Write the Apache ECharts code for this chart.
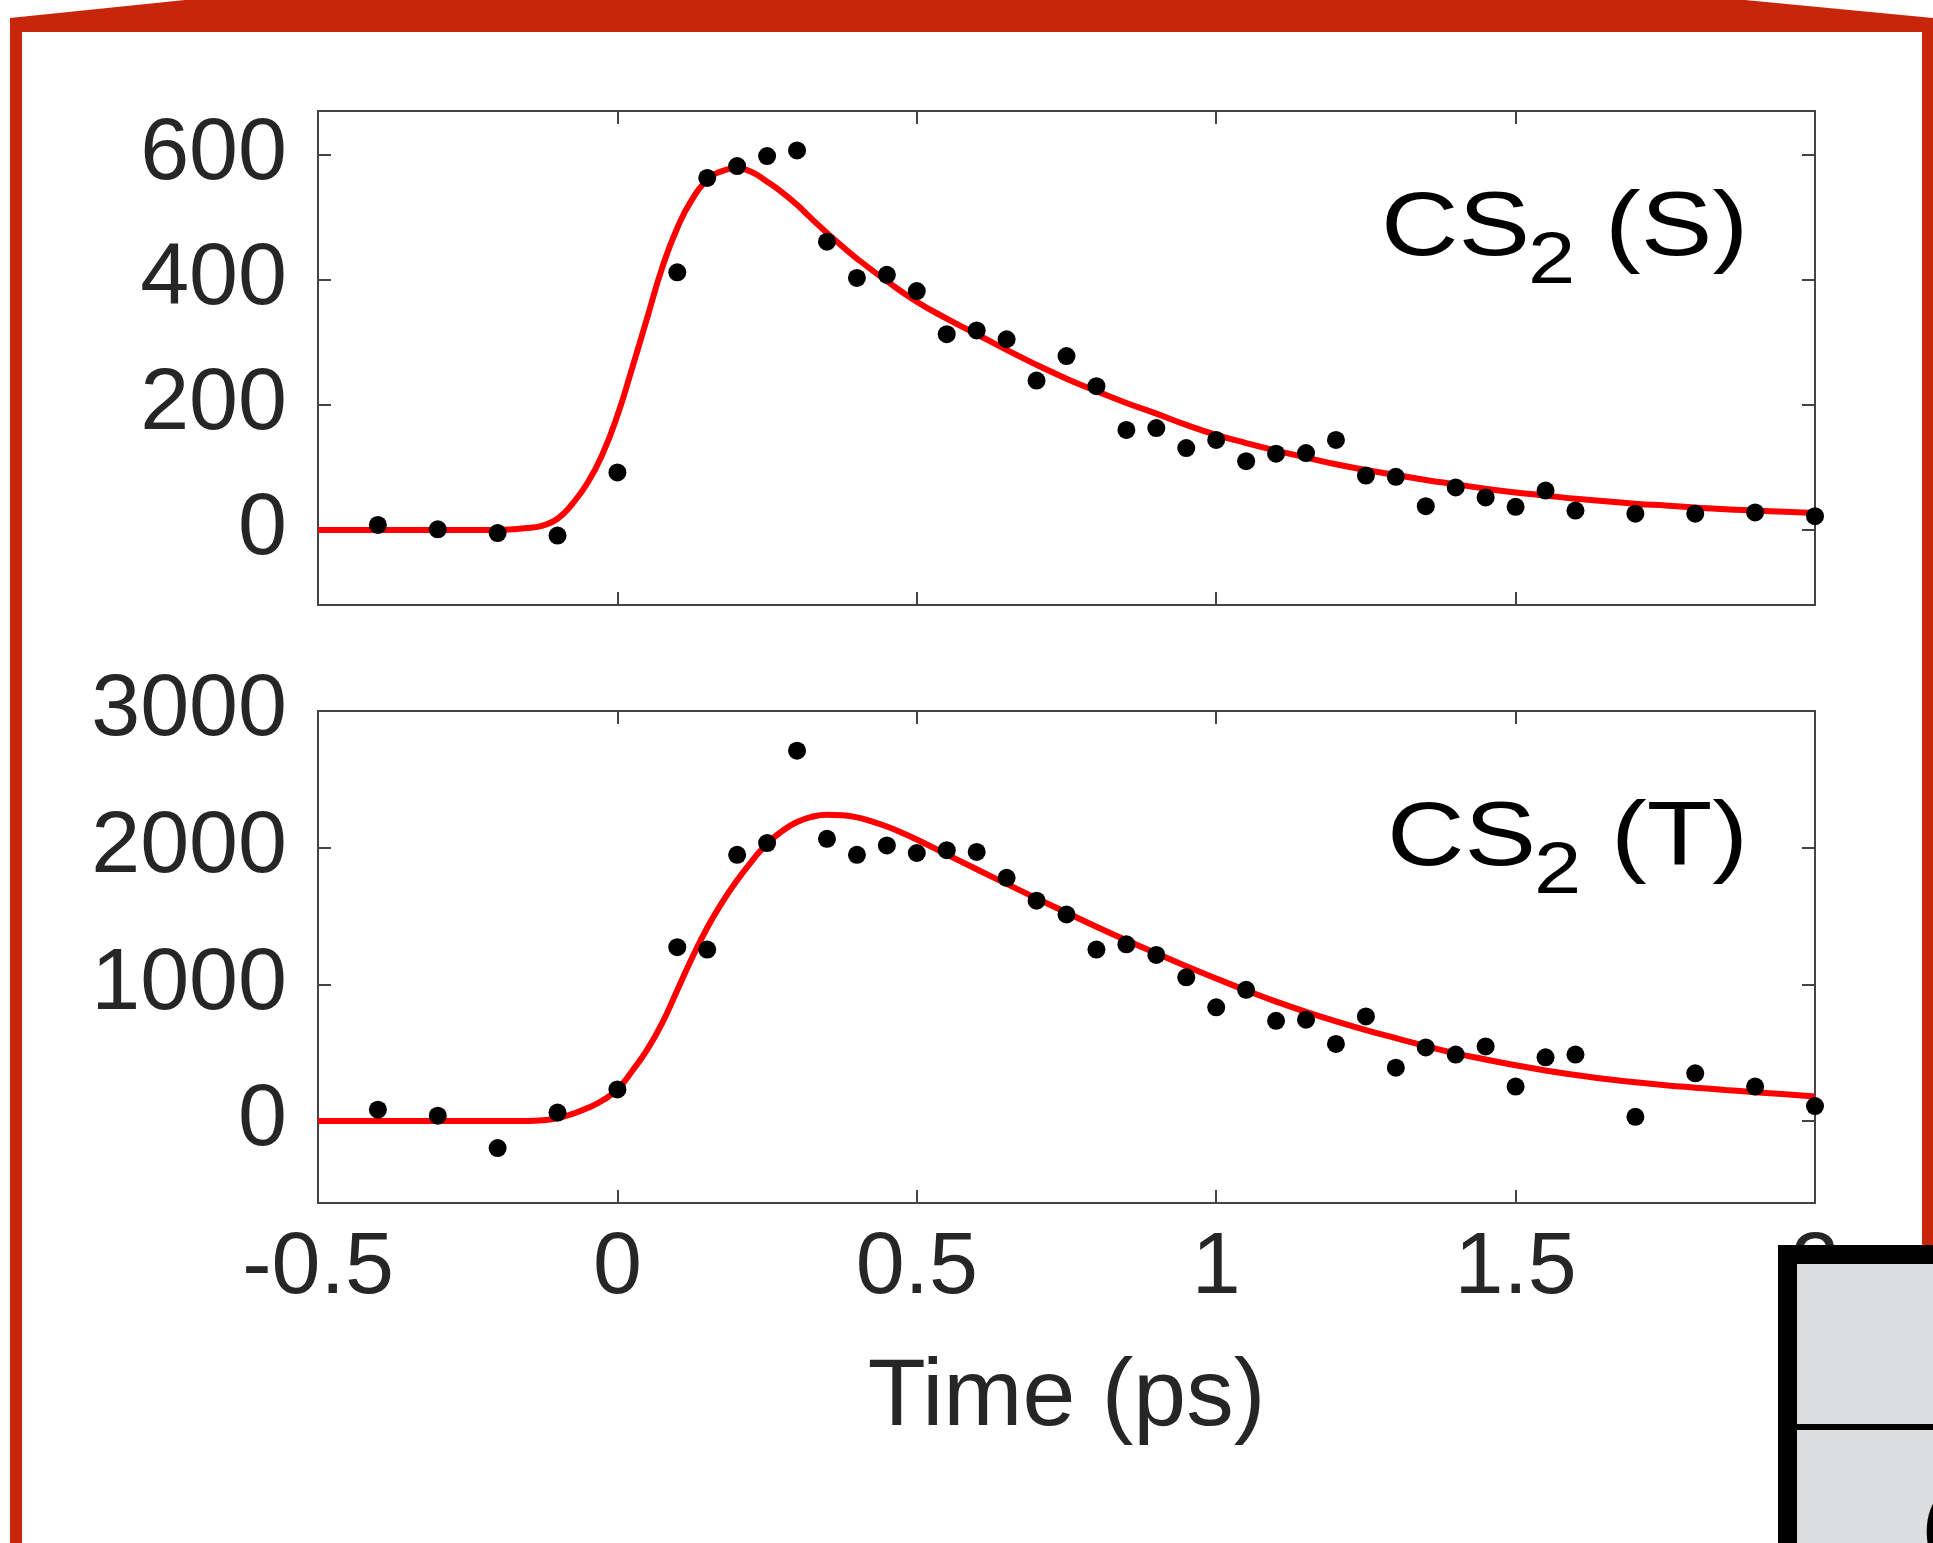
<!DOCTYPE html>
<html>
<head>
<meta charset="utf-8">
<script src="https://cdn.jsdelivr.net/npm/echarts@6/dist/echarts.min.js"></script>
<style>
html,body{margin:0;padding:0;background:#fff;}
#chart{width:1933px;height:1543px;}
</style>
</head>
<body>
<div id="chart"></div>
<script>
// ---------- data ----------
const xTicks = [-0.5, 0, 0.5, 1, 1.5, 2];
const yTicksS = [0, 200, 400, 600];
const yTicksT = [0, 1000, 2000, 3000];

// CS2 (S) measured points
const timesS = [-0.4,-0.3,-0.2,-0.1,0,0.1,0.15,0.2,0.25,0.3,0.35,0.4,0.45,0.5,0.55,0.6,0.65,0.7,0.75,0.8,0.85,0.9,0.95,1.0,1.05,1.1,1.15,1.2,1.25,1.3,1.35,1.4,1.45,1.5,1.55,1.6,1.7,1.8,1.9,2.0];
const valuesS = [8,1,-5,-9,92,412,563,582,598,607,461,403,408,382,313,319,305,239,278,230,160,163,131,144,110,122,123,144,87,85,38,68,52,37,63,31,26,26,28,22];
// CS2 (S) fit curve
const fitTimesS = [-0.5,-0.4,-0.3,-0.25,-0.2,-0.175,-0.15,-0.125,-0.1,-0.075,-0.05,-0.025,0,0.025,0.05,0.075,0.1,0.125,0.15,0.175,0.2,0.225,0.25,0.275,0.3,0.325,0.35,0.375,0.4,0.45,0.5,0.55,0.6,0.65,0.7,0.75,0.8,0.85,0.9,0.95,1.0,1.05,1.1,1.15,1.2,1.25,1.3,1.35,1.4,1.45,1.5,1.55,1.6,1.65,1.7,1.75,1.8,1.85,1.9,1.95,2.0];
const fitValuesS = [0,0,0,0,0,1,3,7,18,42,75,121,183,260,340,420,483,529,559,574,578,572,557,540,520,497,475,454,434,398,365,338,313,288,264,242,222,203,186,168,152,139,127,116,105,96,88,80,73,66,60,55,50,46,42,39,36,33,31,29,27];

// CS2 (T) measured points
const timesT = [-0.4,-0.3,-0.2,-0.1,0,0.1,0.15,0.2,0.25,0.3,0.35,0.4,0.45,0.5,0.55,0.6,0.65,0.7,0.75,0.8,0.85,0.9,0.95,1.0,1.05,1.1,1.15,1.2,1.25,1.3,1.35,1.4,1.45,1.5,1.55,1.6,1.7,1.8,1.9,2.0];
const valuesT = [83,39,-198,62,231,1272,1254,1948,2034,2710,2065,1948,2016,1961,1982,1969,1779,1612,1511,1254,1293,1215,1051,832,960,733,741,564,765,390,538,486,546,252,466,486,31,349,252,109];
// CS2 (T) fit curve
const fitTimesT = [-0.5,-0.4,-0.3,-0.2,-0.15,-0.125,-0.1,-0.075,-0.05,-0.025,0,0.025,0.05,0.075,0.1,0.125,0.15,0.175,0.2,0.225,0.25,0.275,0.3,0.325,0.35,0.375,0.4,0.425,0.45,0.475,0.5,0.55,0.6,0.65,0.7,0.75,0.8,0.85,0.9,0.95,1.0,1.05,1.1,1.15,1.2,1.25,1.3,1.35,1.4,1.45,1.5,1.55,1.6,1.65,1.7,1.75,1.8,1.85,1.9,1.95,2.0];
const fitValuesT = [0,0,0,0,0,5,20,52,95,150,231,368,524,718,957,1196,1414,1600,1762,1904,2030,2121,2188,2226,2241,2237,2222,2192,2155,2110,2060,1950,1842,1735,1629,1525,1422,1322,1226,1133,1043,956,874,798,729,665,606,549,495,450,408,370,336,308,283,262,244,227,211,195,179];

const panelLabels = [['CS', '2', '(S)'], ['CS', '2', '(T)']];
const xAxisTitle = 'Time (ps)';

// ---------- chart ----------
const FONT = "'Liberation Sans', Arial, Helvetica, sans-serif";
const AXIS_COLOR = '#444444';
const TXT = '#262626';

function pairs(xs, ys) { return xs.map((x, i) => [x, ys[i]]); }

function xAxis(grid, pos, labels) {
  return {
    type: 'value', gridIndex: grid, position: pos,
    min: -0.5, max: 2, interval: 0.5,
    axisLine: { show: true, onZero: false, lineStyle: { color: AXIS_COLOR, width: 2 } },
    axisTick: { show: true, inside: true, length: 13, lineStyle: { color: AXIS_COLOR, width: 2 } },
    axisLabel: labels ? {
      show: true, margin: 22, color: TXT, fontSize: 88, fontFamily: FONT,
      customValues: xTicks,
      formatter: v => String(v)
    } : { show: false },
    splitLine: { show: false },
    name: labels ? xAxisTitle : '',
    nameLocation: 'middle', nameGap: 148,
    nameTextStyle: { color: TXT, fontSize: 95, fontFamily: FONT }
  };
}
function yAxis(grid, pos, labels, min, max, ticks) {
  return {
    type: 'value', gridIndex: grid, position: pos, min: min, max: max,
    axisLine: { show: true, onZero: false, lineStyle: { color: AXIS_COLOR, width: 2 } },
    axisTick: { show: true, inside: true, length: 13, customValues: ticks, lineStyle: { color: AXIS_COLOR, width: 2 } },
    axisLabel: labels ? {
      show: true, margin: 31, color: TXT, fontSize: 88, fontFamily: FONT,
      customValues: ticks,
      formatter: v => String(v)
    } : { show: false, customValues: ticks },
    splitLine: { show: false }
  };
}

function labelTexts(parts, x0, baseY) {
  const F = 91, f = 72, sx = 1.18;
  const common = { fill: '#000000', fontFamily: FONT, verticalAlign: 'middle', align: 'left' };
  return [
    { type: 'text', x: x0, y: baseY - 0.31 * F, scaleX: sx, z: 50,
      style: Object.assign({ text: parts[0], fontSize: F }, common) },
    { type: 'text', x: x0 + 147, y: baseY + 27 - 0.31 * f, scaleX: sx, z: 50,
      style: Object.assign({ text: parts[1], fontSize: f }, common) },
    { type: 'text', x: x0 + 224, y: baseY - 0.31 * F, scaleX: sx, z: 50,
      style: Object.assign({ text: parts[2], fontSize: F }, common) }
  ];
}

const chart = echarts.init(document.getElementById('chart'), null, { renderer: 'canvas' });

const graphics = [
  // red slide frame
  { type: 'polygon', z: 1, shape: { points: [[185,0],[1745,0],[1933,18],[1933,1543],[1922,1543],[1922,32],[22,32],[22,1543],[10,1543],[10,18]] },
    style: { fill: '#c7260b' } },
  // overlapping box at bottom right
  { type: 'rect', z: 100, shape: { x: 1778, y: 1245, width: 200, height: 400 }, style: { fill: '#000' } },
  { type: 'rect', z: 101, shape: { x: 1797, y: 1264, width: 200, height: 160 }, style: { fill: '#dcdde0' } },
  { type: 'rect', z: 101, shape: { x: 1797, y: 1430, width: 200, height: 200 }, style: { fill: '#dcdde0' } },
  { type: 'text', z: 102, x: 1921, y: 1531, style: { text: '(', fontSize: 92, fontFamily: FONT, fill: '#000', verticalAlign: 'middle', align: 'left' } }
].concat(labelTexts(panelLabels[0], 1381, 258), labelTexts(panelLabels[1], 1387, 868));

chart.setOption({
  backgroundColor: '#ffffff',
  animation: false,
  grid: [
    { left: 318, top: 111, width: 1497, height: 494, containLabel: false, outerBoundsMode: 'none' },
    { left: 318, top: 711, width: 1497, height: 492, containLabel: false, outerBoundsMode: 'none' }
  ],
  xAxis: [
    xAxis(0, 'bottom', false), xAxis(0, 'top', false),
    xAxis(1, 'bottom', true), xAxis(1, 'top', false)
  ],
  yAxis: [
    yAxis(0, 'left', true, -120, 670, yTicksS), yAxis(0, 'right', false, -120, 670, yTicksS),
    yAxis(1, 'left', true, -600, 3000, yTicksT), yAxis(1, 'right', false, -600, 3000, yTicksT)
  ],
  series: [
    { type: 'line', xAxisIndex: 0, yAxisIndex: 0, data: pairs(fitTimesS, fitValuesS), showSymbol: false, smooth: 0.5,
      lineStyle: { color: '#ff0000', width: 6 }, z: 2 },
    { type: 'scatter', xAxisIndex: 0, yAxisIndex: 0, data: pairs(timesS, valuesS), symbolSize: 18,
      itemStyle: { color: '#000', opacity: 1 }, clip: false, z: 3 },
    { type: 'line', xAxisIndex: 2, yAxisIndex: 2, data: pairs(fitTimesT, fitValuesT), showSymbol: false, smooth: 0.5,
      lineStyle: { color: '#ff0000', width: 6 }, z: 2 },
    { type: 'scatter', xAxisIndex: 2, yAxisIndex: 2, data: pairs(timesT, valuesT), symbolSize: 18,
      itemStyle: { color: '#000', opacity: 1 }, clip: false, z: 3 }
  ],
  graphic: graphics
});
</script>
</body>
</html>
